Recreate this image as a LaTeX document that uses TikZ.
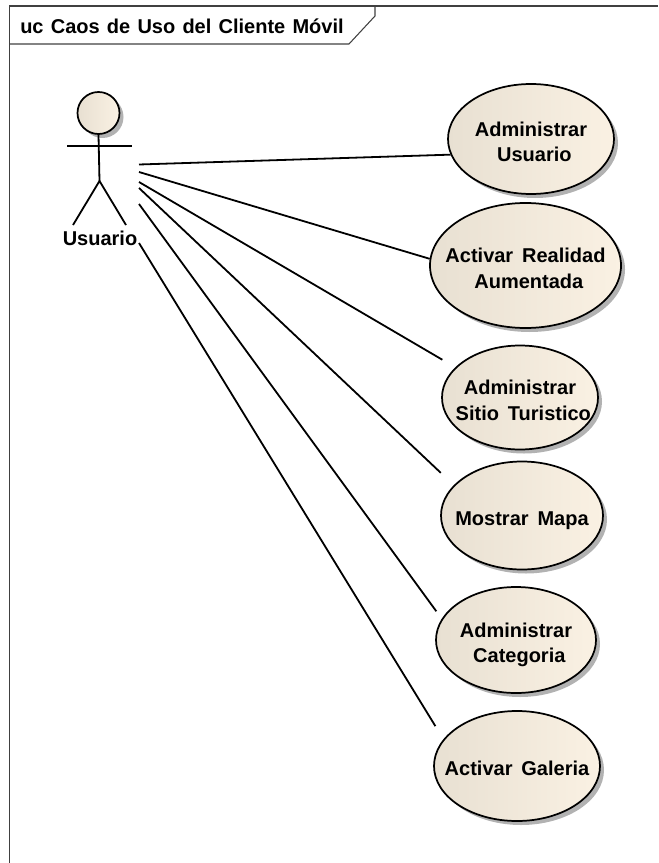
\documentclass[tikz,border=0pt]{standalone}
\usepackage{fontspec}
\setmainfont[WordSpace=1.3]{Liberation Sans}
\newfontfamily\ucfont[WordSpace=1.6]{Liberation Sans}
\usetikzlibrary{shapes.geometric,shadows}
\definecolor{fillL}{HTML}{E8E0D2}
\definecolor{fillR}{HTML}{FAF1E3}
\tikzset{
  x=0.75pt,y=-0.75pt,
  usecase/.style={ellipse,draw=black,line width=1.3pt,inner sep=0pt,
    left color=fillL,middle color=fillR,right color=fillR,
    font=\ucfont\bfseries\fontsize{15}{19.2}\selectfont,
    drop shadow={shadow xshift=3pt,shadow yshift=-3pt,fill=black!30,opacity=1}},
  assoc/.style={line width=1.35pt,draw=black},
  stick/.style={line width=1.35pt,draw=black},
  framed/.style={line width=0.8pt,draw=black!75},
  lbl/.style={font=\bfseries\fontsize{15}{19.2}\selectfont,inner sep=0pt}
}
\newcommand{\lineshift}{\hspace*{5pt}}
\newcommand{\uctxt}[1]{\makebox[0pt]{\raisebox{-7.2pt}[0pt][0pt]{\begin{tabular}{@{}c@{}}#1\end{tabular}}}}
\begin{document}
\begin{tikzpicture}
\useasboundingbox (0,0) rectangle (658,863);
% frame
\draw[framed] (9.5,863) -- (9.5,6) -- (658,6);
\draw[framed] (9.5,44) -- (349,44) -- (375,16) -- (375,6);
\node[lbl,anchor=west] (title) at (20,26.5) {uc Caos de Uso del Cliente Móvil};
% use cases
\node[usecase,minimum width=124.5pt,minimum height=82.5pt] (e1) at (531,139) {\uctxt{Administrar\\\lineshift Usuario}};
\node[usecase,minimum width=143.25pt,minimum height=93.75pt] (e2) at (525.5,265.5) {\uctxt{Activar Realidad\\\lineshift Aumentada}};
\node[usecase,minimum width=117pt,minimum height=78pt] (e3) at (520,397.5) {\uctxt{Administrar\\\lineshift Sitio Turistico}};
\node[usecase,minimum width=121.5pt,minimum height=81pt] (e4) at (522,515.5) {\uctxt{Mostrar Mapa}};
\node[usecase,minimum width=120pt,minimum height=79.5pt] (e5) at (516,640) {\uctxt{Administrar\\\lineshift Categoria}};
\node[usecase,minimum width=124.5pt,minimum height=82.5pt] (e6) at (517,766) {\uctxt{Activar Galeria}};
% actor
\node[circle,draw=black,line width=1.3pt,inner sep=0pt,minimum size=31.5pt,
  left color=fillL,middle color=fillR,right color=fillR,
  drop shadow={shadow xshift=3pt,shadow yshift=-3pt,fill=black!30,opacity=1}] (head) at (98.5,113) {};
\coordinate (armL) at (67,146);
\coordinate (armR) at (132,146);
\coordinate (hip) at (99.5,181);
\coordinate (legL) at (73,225);
\coordinate (legR) at (126,225);
\draw[stick] (head.south) -- (hip);
\draw[stick] (armL) -- (armR);
\draw[stick] (legL) -- (hip) -- (legR);
\node[lbl] (actor) at (100,238.5) {Usuario};
% connector starts
\coordinate (u1) at (139,164.5);
\coordinate (u2) at (139,172);
\coordinate (u3) at (139,182);
\coordinate (u4) at (139,188);
\coordinate (u5) at (139,204);
\coordinate (u6) at (139,243);
\draw[assoc] (u1) -- (e1.191.7);
\draw[assoc] (u2) -- (e2.176);
\draw[assoc,shorten >=11.25pt] (u3) -- (e3.155);
\draw[assoc,shorten >=13.4pt] (u4) -- (e4.156.8);
\draw[assoc,shorten >=6.9pt] (u5) -- (e5.164.4);
\draw[assoc,shorten >=11.5pt] (u6) -- (e6.160.4);
\end{tikzpicture}
\end{document}
